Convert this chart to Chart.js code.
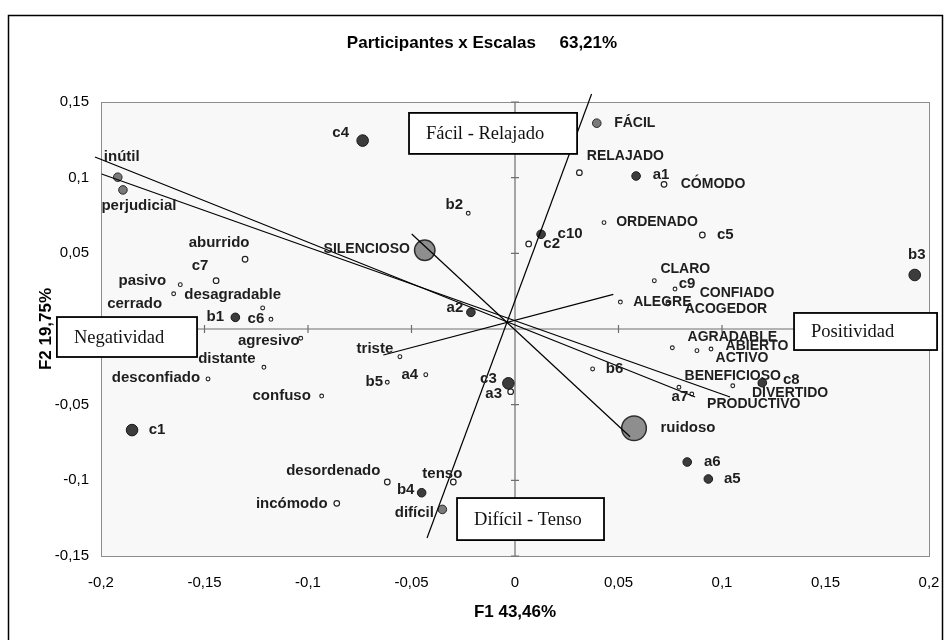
<!DOCTYPE html>
<html lang="es">
<head>
  <meta charset="UTF-8" />
  <title>Participantes x Escalas</title>
  <script src="https://cdn.jsdelivr.net/npm/chart.js"></script>
  <style>
    html, body {
      margin: 0;
      padding: 0;
      background: #ffffff;
      overflow: hidden;
    }
    canvas {
      display: block;
    }
  </style>
</head>
<body>
  <canvas id="mapa" width="951" height="640"></canvas>

  <script>
    // Tick values of both factors
    const f1Ticks = [-0.2, -0.15, -0.1, -0.05, 0, 0.05, 0.1, 0.15, 0.2];
    const f2Ticks = [-0.15, -0.1, -0.05, 0, 0.05, 0.1, 0.15];

    // Points of the map: name, coordinate on F1, coordinate on F2, marker group
    const names = [
      'inútil', 'perjudicial', 'aburrido', 'c7', 'pasivo', 'cerrado', 'desagradable', 'b1', 'c6',
      'agresivo', 'distante', 'desconfiado', 'confuso', 'c1', 'c4', 'b2', 'SILENCIOSO', 'a2', 'c2',
      'c10', 'triste', 'a4', 'b5', 'c3', 'a3', 'desordenado', 'tenso', 'b4', 'difícil', 'incómodo',
      'FÁCIL', 'RELAJADO', 'a1', 'CÓMODO', 'ORDENADO', 'c5', 'CLARO', 'c9', 'ALEGRE', 'CONFIADO',
      'ACOGEDOR', 'AGRADABLE', 'ABIERTO', 'ACTIVO', 'BENEFICIOSO', 'c8', 'DIVERTIDO', 'PRODUCTIVO',
      'a7', 'b6', 'ruidoso', 'a6', 'a5', 'b3'
    ];
    const f1 = [
      -0.1919, -0.1894, -0.1304, -0.1444, -0.1617, -0.1649, -0.1219, -0.1351, -0.1179,
      -0.1035, -0.1213, -0.1483, -0.0934, -0.1850, -0.0736, -0.0226, -0.0436, -0.0213, 0.0066,
      0.0126, -0.0556, -0.0431, -0.0617, -0.0032, -0.0021, -0.0617, -0.0298, -0.0451, -0.0351, -0.0861,
      0.0395, 0.0311, 0.0585, 0.0720, 0.0430, 0.0905, 0.0673, 0.0773, 0.0509, 0.0739,
      0.0739, 0.0760, 0.0879, 0.0947, 0.1052, 0.1195, 0.1184, 0.0854,
      0.0792, 0.0375, 0.0575, 0.0832, 0.0934, 0.1931
    ];
    const f2 = [
      0.1003, 0.0919, 0.0461, 0.0319, 0.0293, 0.0233, 0.0139, 0.0077, 0.0064,
      -0.0061, -0.0253, -0.0330, -0.0443, -0.0668, 0.1245, 0.0765, 0.0520, 0.0110, 0.0562,
      0.0626, -0.0183, -0.0302, -0.0352, -0.0359, -0.0414, -0.1011, -0.1011, -0.1082, -0.1192, -0.1152,
      0.1360, 0.1033, 0.1011, 0.0956, 0.0703, 0.0621, 0.0319, 0.0264, 0.0178, 0.0178,
      0.0165, -0.0124, -0.0143, -0.0132, -0.0375, -0.0355, -0.0364, -0.0430,
      -0.0385, -0.0264, -0.0656, -0.0879, -0.0991, 0.0357
    ];
    const groups = [
      'grey', 'grey', 'open', 'open', 'dot', 'dot', 'dot', 'dark', 'dot',
      'dot', 'dot', 'dot', 'dot', 'large', 'large', 'dot', 'bubble', 'dark', 'open',
      'dark', 'dot', 'dot', 'dot', 'large', 'open', 'open', 'open', 'dark', 'grey', 'open',
      'grey', 'open', 'dark', 'open', 'dot', 'open', 'dot', 'dot', 'dot', 'dot',
      'dot', 'dot', 'dot', 'dot', 'dot', 'dark', 'dot', 'dot',
      'dot', 'dot', 'bubbleL', 'dark', 'dark', 'large'
    ];

    // Axis vectors drawn across the map (start and end on F1 / F2)
    const vectorFrom = [[-0.2029, 0.1137], [-0.1997, 0.1024], [0.0370, 0.1553], [-0.0499, 0.0628], [-0.0636, -0.0172]];
    const vectorTo = [[0.0870, -0.0449], [0.1039, -0.0449], [-0.0425, -0.1381], [0.0556, -0.0712], [0.0475, 0.0229]];

    // Text boxes, corners in F1 / F2 units
    const boxTexts = ['Fácil - Relajado', 'Negatividad', 'Positividad', 'Difícil - Tenso'];
    const boxCorners = [
      [-0.0512, 0.1428, 0.0300, 0.1157],
      [-0.2213, 0.0079, -0.1536, -0.0185],
      [0.1348, 0.0106, 0.2039, -0.0139],
      [-0.0280, -0.1117, 0.0430, -0.1395]
    ];

    const chartTitle = 'Participantes x Escalas     63,21%';

    // ---- styling ----
    const FONT = "'Liberation Sans', Arial, sans-serif";

    const groupStyle = {
      bubbleL: { r: 12.3, bg: '#8e8e8e', border: '#2e2e2e', bw: 1.5, order: 1 },
      bubble: { r: 10.2, bg: '#8e8e8e', border: '#2e2e2e', bw: 1.5, order: 1 },
      large: { r: 5.8, bg: '#3c3c3c', border: '#1a1a1a', bw: 1, order: 2 },
      dark: { r: 4.3, bg: '#3c3c3c', border: '#1a1a1a', bw: 1, order: 2 },
      grey: { r: 4.3, bg: '#7a7a7a', border: '#2a2a2a', bw: 1, order: 2 },
      open: { r: 2.8, bg: '#ffffff', border: '#222222', bw: 1.2, order: 3 },
      dot: { r: 1.9, bg: '#ffffff', border: '#222222', bw: 1.1, order: 4 }
    };

    // label centre relative to its point, in pixels
    const labelOffset = {
      'inútil': [4, -20], 'perjudicial': [16, 16], 'aburrido': [-26, -16], 'c7': [-16, -15],
      'pasivo': [-38, -4], 'cerrado': [-39, 10], 'desagradable': [-30, -13], 'b1': [-20, 0],
      'c6': [-15, 0], 'agresivo': [-32, 3], 'distante': [-37, -8], 'desconfiado': [-52, -1],
      'confuso': [-40, 0], 'c1': [25, 0], 'c4': [-22, -8], 'b2': [-14, -8], 'SILENCIOSO': [-58, -1],
      'a2': [-16, -4], 'c2': [23, 0], 'c10': [29, 0], 'triste': [-25, -8], 'a4': [-16, 0],
      'b5': [-13, 0], 'c3': [-20, -4], 'a3': [-17, 2], 'desordenado': [-54, -11], 'tenso': [-11, -8],
      'b4': [-16, -3], 'difícil': [-28, 3], 'incómodo': [-45, 1], 'FÁCIL': [38, 0],
      'RELAJADO': [46, -17], 'a1': [25, -1], 'CÓMODO': [49, 0], 'ORDENADO': [53, 0], 'c5': [23, 0],
      'CLARO': [31, -12], 'c9': [12, -5], 'ALEGRE': [42, 0], 'CONFIADO': [69, -9],
      'ACOGEDOR': [58, 5], 'AGRADABLE': [60, -11], 'ABIERTO': [60, -5], 'ACTIVO': [31, 9],
      'BENEFICIOSO': [0, -10], 'c8': [29, -3], 'DIVERTIDO': [30, 9], 'PRODUCTIVO': [62, 10],
      'a7': [1, 10], 'b6': [22, 0], 'ruidoso': [54, 0], 'a6': [25, 0], 'a5': [24, 0], 'b3': [2, -20]
    };

    const fmt = v => String(Math.round(v * 100) / 100).replace('.', ',');

    // build one scatter dataset per marker group
    const pointSets = Object.keys(groupStyle).map(g => {
      const st = groupStyle[g];
      const idx = names.map((n, i) => i).filter(i => groups[i] === g);
      return {
        label: g,
        names: idx.map(i => names[i]),
        data: idx.map(i => ({ x: f1[i], y: f2[i] })),
        pointRadius: st.r,
        pointBackgroundColor: st.bg,
        pointBorderColor: st.border,
        pointBorderWidth: st.bw,
        order: st.order
      };
    });

    const vectorSets = vectorFrom.map((p, i) => ({
      label: 'vector ' + (i + 1),
      data: [{ x: p[0], y: p[1] }, { x: vectorTo[i][0], y: vectorTo[i][1] }],
      showLine: true,
      borderColor: '#000000',
      borderWidth: 1.2,
      pointRadius: 0,
      clip: false,
      order: 0
    }));

    // plot frame, light background, title and the axes crossing at the origin
    const framePlugin = {
      id: 'framePlugin',
      beforeDraw(chart) {
        const { ctx, chartArea: a } = chart;
        ctx.save();
        ctx.fillStyle = '#ffffff';
        ctx.fillRect(0, 0, chart.width, chart.height);
        ctx.strokeStyle = '#000000';
        ctx.lineWidth = 1.5;
        ctx.strokeRect(8.5, 15.5, 934, 640);
        ctx.fillStyle = '#f8f8f8';
        ctx.fillRect(a.left, a.top, a.right - a.left, a.bottom - a.top);
        ctx.strokeStyle = '#8c8c8c';
        ctx.lineWidth = 1;
        ctx.strokeRect(a.left + 0.5, a.top + 0.5, a.right - a.left, a.bottom - a.top);
        ctx.font = 'bold 17px ' + FONT;
        ctx.fillStyle = '#000000';
        ctx.textAlign = 'center';
        ctx.textBaseline = 'middle';
        ctx.fillText(chartTitle, 482, 43);
        ctx.restore();
      },
      beforeDatasetsDraw(chart) {
        const { ctx, chartArea: a, scales } = chart;
        const x0 = scales.x.getPixelForValue(0);
        const y0 = scales.y.getPixelForValue(0);
        ctx.save();
        ctx.strokeStyle = '#6e6e6e';
        ctx.lineWidth = 1.2;
        ctx.beginPath();
        ctx.moveTo(a.left, y0);
        ctx.lineTo(a.right, y0);
        ctx.moveTo(x0, a.top);
        ctx.lineTo(x0, a.bottom);
        f1Ticks.forEach(v => {
          const px = scales.x.getPixelForValue(v);
          ctx.moveTo(px, y0 - 4);
          ctx.lineTo(px, y0 + 4);
        });
        f2Ticks.forEach(v => {
          const py = scales.y.getPixelForValue(v);
          ctx.moveTo(x0 - 4, py);
          ctx.lineTo(x0 + 4, py);
        });
        ctx.stroke();
        ctx.restore();
      }
    };

    // names next to the points, then the text boxes on top
    const labelPlugin = {
      id: 'labelPlugin',
      afterDatasetsDraw(chart) {
        const ctx = chart.ctx;
        ctx.save();
        ctx.fillStyle = '#1e1e1e';
        ctx.textAlign = 'center';
        ctx.textBaseline = 'middle';
        chart.data.datasets.forEach((ds, i) => {
          if (!ds.names) return;
          chart.getDatasetMeta(i).data.forEach((pt, j) => {
            const name = ds.names[j];
            const off = labelOffset[name] || [14, 0];
            const upper = name.length > 2 && name === name.toUpperCase();
            ctx.font = 'bold ' + (upper ? 14 : 15) + 'px ' + FONT;
            ctx.fillText(name, pt.x + off[0], pt.y + off[1]);
          });
        });
        ctx.restore();
      },
      afterDraw(chart) {
        const { ctx, scales } = chart;
        ctx.save();
        ctx.font = "18.5px 'Liberation Serif', 'Times New Roman', serif";
        ctx.textBaseline = 'middle';
        ctx.textAlign = 'left';
        boxTexts.forEach((txt, i) => {
          const c = boxCorners[i];
          const x0 = scales.x.getPixelForValue(c[0]);
          const y0 = scales.y.getPixelForValue(c[1]);
          const x1 = scales.x.getPixelForValue(c[2]);
          const y1 = scales.y.getPixelForValue(c[3]);
          ctx.fillStyle = '#ffffff';
          ctx.fillRect(x0, y0, x1 - x0, y1 - y0);
          ctx.strokeStyle = '#000000';
          ctx.lineWidth = 1.8;
          ctx.strokeRect(x0, y0, x1 - x0, y1 - y0);
          ctx.fillStyle = '#111111';
          ctx.fillText(txt, x0 + 17, (y0 + y1) / 2 + 1);
        });
        ctx.restore();
      }
    };

    Chart.defaults.font.family = FONT;
    Chart.defaults.color = '#000000';

    new Chart(document.getElementById('mapa').getContext('2d'), {
      type: 'scatter',
      data: { datasets: vectorSets.concat(pointSets) },
      options: {
        responsive: false,
        devicePixelRatio: 1,
        animation: false,
        events: [],
        layout: { padding: { left: 0, right: 22, top: 102, bottom: 0 } },
        plugins: {
          legend: { display: false },
          tooltip: { enabled: false },
          title: { display: false }
        },
        scales: {
          x: {
            type: 'linear',
            min: -0.2,
            max: 0.2,
            afterBuildTicks: s => { s.ticks = f1Ticks.map(v => ({ value: v })); },
            afterFit: s => {
              s.height = 84;
              s.paddingLeft = 0;
              s.paddingRight = 0;
            },
            grid: { display: false, drawTicks: false },
            border: { display: false },
            ticks: { callback: fmt, font: { size: 15 }, color: '#000000', padding: 18, maxRotation: 0, autoSkip: false },
            title: {
              display: true,
              text: 'F1 43,46%',
              color: '#000000',
              font: { size: 17, weight: 'bold' },
              padding: { top: 0, bottom: 17.8 }
            }
          },
          y: {
            type: 'linear',
            min: -0.15,
            max: 0.15,
            afterBuildTicks: s => { s.ticks = f2Ticks.map(v => ({ value: v })); },
            afterFit: s => { s.width = 101; },
            grid: { display: false, drawTicks: false },
            border: { display: false },
            ticks: { callback: fmt, font: { size: 15 }, color: '#000000', padding: 12, autoSkip: false },
            title: {
              display: true,
              text: 'F2 19,75%',
              color: '#000000',
              font: { size: 17, weight: 'bold' },
              padding: { top: 35.8, bottom: 0 }
            }
          }
        }
      },
      plugins: [framePlugin, labelPlugin]
    });
  </script>
</body>
</html>
